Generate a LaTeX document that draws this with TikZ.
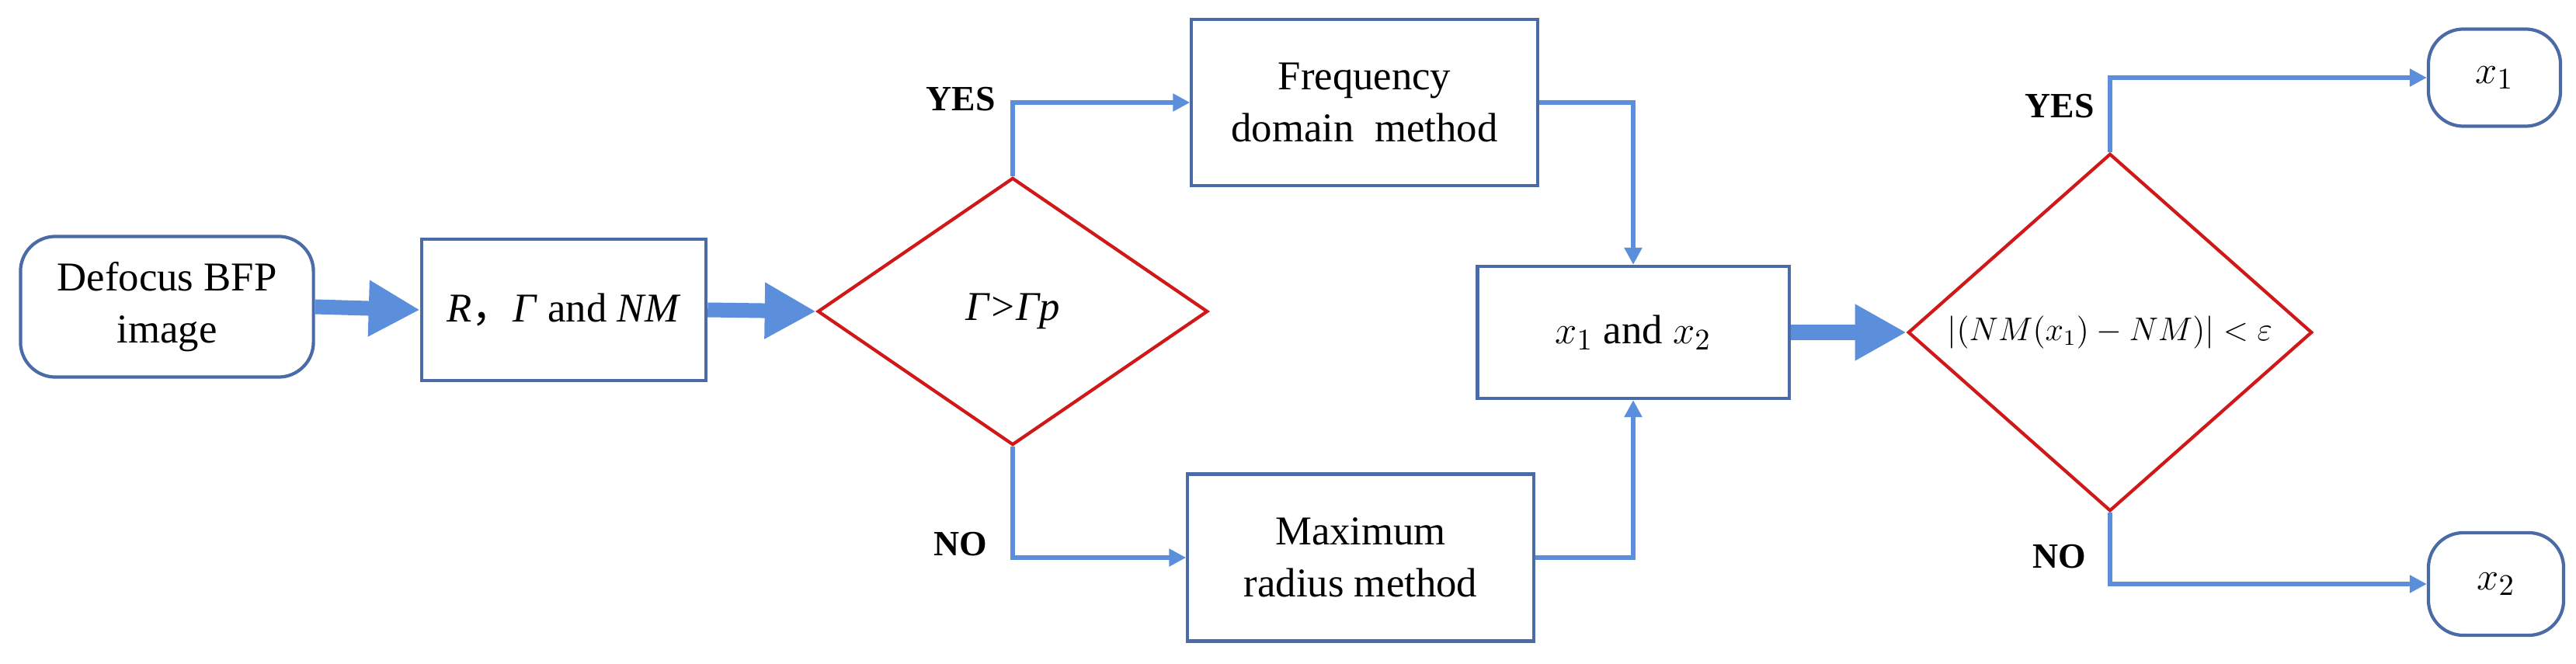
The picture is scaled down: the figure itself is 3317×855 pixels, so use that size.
\documentclass[tikz,border=0pt]{standalone}
\usepackage{fontspec}
\setmainfont{Liberation Serif}
\newfontfamily\cjk{Noto Sans CJK SC}
\usetikzlibrary{shapes.geometric,arrows.meta}
\definecolor{boxc}{HTML}{4A6BA5}
\definecolor{linec}{HTML}{5B8FDB}
\definecolor{redc}{HTML}{D01818}
\begin{document}
\begin{tikzpicture}[x=0.01cm,y=-0.01cm,
  box/.style={draw=boxc,line width=1.2pt,align=center,font=\fontsize{15}{19}\selectfont,inner sep=0pt},
  rbox/.style={box,rounded corners=0.45cm},
  dia/.style={draw=redc,line width=1.2pt,shape=diamond,inner sep=0pt,font=\fontsize{15}{19}\selectfont},
  thin/.style={draw=linec,line width=1.5pt,-{Triangle[length=0.22cm,width=0.22cm]}},
  thick/.style={draw=linec,line width=0.19cm,-{Triangle[length=0.66cm,width=0.68cm]}},
  lab/.style={font=\bfseries\fontsize{13}{15}\selectfont}]
\useasboundingbox (0,0) rectangle (3317,855);
\node[rbox,minimum width=3.77cm,minimum height=1.81cm] (def) at (215,395) {Defocus BFP\\image};
\node[box,minimum width=3.66cm,minimum height=1.82cm] (rnm) at (726,399) {\textit{R}{\cjk ，}\textit{Γ} and \textit{NM}};
\node[dia,minimum width=5.02cm,minimum height=3.44cm] (d1) at (1304,401) {\textit{Γ>Γp}};
\node[box,minimum width=4.45cm,minimum height=2.14cm] (freq) at (1757,132) {Frequency\\domain\ \ method};
\node[box,minimum width=4.45cm,minimum height=2.15cm] (max) at (1752,718) {Maximum\\radius method};
\node[box,minimum width=4.01cm,minimum height=1.70cm] (x12) at (2103,428) {$x_1$ and $x_2$};
\node[dia,minimum width=5.20cm,minimum height=3.48cm,font=\fontsize{12}{14}\selectfont] (d2) at (2717,428) {$\bigl|(NM(x_1)-NM)\bigr|<\varepsilon$};
\node[rbox,minimum width=1.70cm,minimum height=1.25cm] (o1) at (3212,100) {$x_1$};
\node[rbox,minimum width=1.74cm,minimum height=1.32cm] (o2) at (3214,752) {$x_2$};
\draw[thick] (def.east) -- (rnm.west);
\draw[thick] (rnm.east) -- (d1.west);
\draw[thick] (x12.east) -- (d2.west);
\draw[thin] (d1.north) |- (freq.west);
\draw[thin] (d1.south) |- (max.west);
\draw[thin] (freq.east) -| (x12.north);
\draw[thin] (max.east) -| (x12.south);
\draw[thin] (d2.north) |- (o1.west);
\draw[thin] (d2.south) |- (o2.west);
\node[lab] (yes1) at (1237,128) {YES};
\node[lab] (no1) at (1237,701) {NO};
\node[lab] (yes2) at (2652,137) {YES};
\node[lab] (no2) at (2652,717) {NO};
\end{tikzpicture}
\end{document}
